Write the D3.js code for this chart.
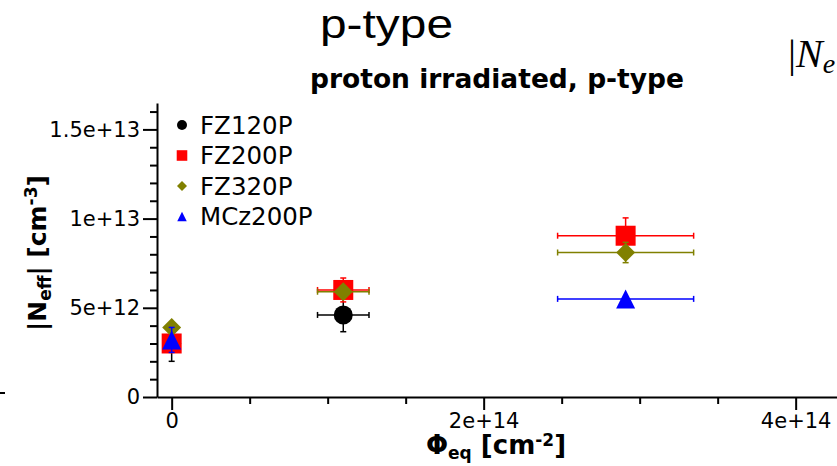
<!DOCTYPE html>
<html>
<head>
<meta charset="utf-8">
<script src="https://cdn.jsdelivr.net/npm/d3@7"></script>
<style>
  body { margin: 0; background: #fff; }
  #art { width: 837px; height: 466px; }
</style>
</head>
<body>
<div id="art"></div>
<script>
// fluence [cm^-2], |Neff| [cm^-3] and their errors
const seriesNames = ["FZ120P", "FZ200P", "FZ320P", "MCz200P"];

const fz120pFluence = [0, 1.1e14];
const fz120pNeff = [3.0e12, 4.6e12];
const fz120pFluenceErr = [0, 1.65e13];
const fz120pNeffErr = [1.0e12, 0.94e12];

const fz200pFluence = [0, 1.1e14, 2.91e14];
const fz200pNeff = [3.0e12, 6.0e12, 9.04e12];
const fz200pFluenceErr = [0, 1.65e13, 4.36e13];
const fz200pNeffErr = [0.4e12, 0.67e12, 1.0e12];

const fz320pFluence = [0, 1.1e14, 2.91e14];
const fz320pNeff = [3.9e12, 5.9e12, 8.1e12];
const fz320pFluenceErr = [0, 1.65e13, 4.36e13];
const fz320pNeffErr = [0.2e12, 0.3e12, 0.57e12];

const mcz200pFluence = [0, 2.91e14];
const mcz200pNeff = [3.2e12, 5.5e12];
const mcz200pFluenceErr = [0, 4.36e13];
const mcz200pNeffErr = [0.7e12, 0];

const xTickValues = [0, 2e14, 4e14];
const xTickLabels = ["0", "2e+14", "4e+14"];
const yTickValues = [0, 5e12, 1e13, 1.5e13];
const yTickLabels = ["0", "5e+12", "1e+13", "1.5e+13"];

config = {
  "settings": { "width": 837, "height": 466 },
  "style": {
    "colours": ["#000000", "#ff0000", "#808000", "#0000ff"],
    "shapes": ["circle", "square", "diamond", "triangle"],
    "font": "'DejaVu Sans', sans-serif"
  }
};

// triangle centred on the middle of its height, like the plotting program does
const triangle = {
  draw(context, size) {
    const h = Math.sqrt(size) / 2;
    context.moveTo(0, -h);
    context.lineTo(h, h);
    context.lineTo(-h, h);
    context.closePath();
  }
};

function symbolFor(shape, big) {
  if (shape === "circle") return d3.symbol().type(d3.symbolCircle).size(Math.PI * (big ? 9.5 : 5) ** 2)();
  if (shape === "square") return d3.symbol().type(d3.symbolSquare).size(big ? 400 : 112)();
  if (shape === "diamond") return d3.symbol().type(d3.symbolSquare).size(big ? 180 : 50)();
  return d3.symbol().type(triangle).size(big ? 361 : 90)();
}

function art() {
  const width = config.settings.width;
  const height = config.settings.height;
  const font = config.style.font;

  const svg = d3.select("#art").append("svg")
    .attr("width", width)
    .attr("height", height)
    .style("font-family", font);

  const x = d3.scaleLinear().domain([-0.094e14, 4.265e14]).range([157, 837]);
  const y = d3.scaleLinear().domain([0, 1.648e13]).range([397, 103]);

  // slide titles around the chart
  svg.append("text")
    .attr("x", 320).attr("y", 38)
    .attr("textLength", 133).attr("lengthAdjust", "spacingAndGlyphs")
    .style("font-family", "'Liberation Sans', Arial, sans-serif")
    .style("font-size", "40px")
    .text("p-type");

  const nTxt = svg.append("text")
    .attr("x", 788).attr("y", 67)
    .style("font-family", "'Liberation Serif', serif")
    .style("font-size", "40px");
  nTxt.append("tspan").text("|");
  nTxt.append("tspan").style("font-style", "italic").text("N");
  nTxt.append("tspan").style("font-style", "italic").style("font-size", "28px").attr("dy", 6).text("e");

  svg.append("line")
    .attr("x1", 0).attr("x2", 5).attr("y1", 393).attr("y2", 393)
    .attr("stroke", "#000").attr("stroke-width", 2);

  svg.append("text")
    .attr("x", 497).attr("y", 88)
    .attr("text-anchor", "middle")
    .style("font-weight", "bold")
    .style("font-size", "26.5px")
    .text("proton irradiated, p-type");

  // minor ticks
  const yMinor = d3.range(0, 1.65e13, 1e12).filter(v => !yTickValues.includes(v));
  svg.append("g")
    .attr("transform", `translate(157,0)`)
    .call(d3.axisLeft(y).tickValues(yMinor).tickSize(7).tickFormat("").tickSizeOuter(0))
    .call(g => g.select(".domain").remove())
    .call(g => g.selectAll("line").attr("stroke-width", 2));

  const xMinor = d3.range(0, 4.3e14, 5e13).filter(v => !xTickValues.some(t => Math.abs(t - v) < 1));
  svg.append("g")
    .attr("transform", `translate(0,397)`)
    .call(d3.axisBottom(x).tickValues(xMinor).tickSize(7).tickFormat("").tickSizeOuter(0))
    .call(g => g.select(".domain").remove())
    .call(g => g.selectAll("line").attr("stroke-width", 2));

  // major axes
  svg.append("g")
    .attr("transform", `translate(157,0)`)
    .call(d3.axisLeft(y).tickValues(yTickValues).tickSize(14).tickPadding(3).tickSizeOuter(0)
      .tickFormat((d, i) => yTickLabels[i]))
    .call(g => g.select(".domain").attr("stroke-width", 2))
    .call(g => g.selectAll("line").attr("stroke-width", 2))
    .call(g => g.selectAll("text").style("font-family", font).style("font-size", "21px").attr("fill", "#000"));

  svg.append("g")
    .attr("transform", `translate(0,397)`)
    .call(d3.axisBottom(x).tickValues(xTickValues).tickSize(13).tickPadding(3).tickSizeOuter(0)
      .tickFormat((d, i) => xTickLabels[i]))
    .call(g => g.select(".domain").attr("stroke-width", 2))
    .call(g => g.selectAll("line").attr("stroke-width", 2))
    .call(g => g.selectAll("text").style("font-family", font).style("font-size", "21px").attr("fill", "#000"));

  // axis titles
  const xLab = svg.append("text")
    .attr("x", 496).attr("y", 454)
    .attr("text-anchor", "middle")
    .style("font-weight", "bold")
    .style("font-size", "26px");
  xLab.append("tspan").text("\u03a6");
  xLab.append("tspan").style("font-size", "17px").attr("dy", 5).text("eq");
  xLab.append("tspan").attr("dy", -5).text(" [cm");
  xLab.append("tspan").style("font-size", "17px").attr("dy", -8).text("-2");
  xLab.append("tspan").attr("dy", 8).text("]");

  const yLab = svg.append("text")
    .attr("transform", "translate(46,253) rotate(-90)")
    .attr("text-anchor", "middle")
    .style("font-weight", "bold")
    .style("font-size", "25px");
  yLab.append("tspan").text("|N");
  yLab.append("tspan").style("font-size", "17px").attr("dy", 5).text("eff");
  yLab.append("tspan").attr("dy", -5).text("| [cm");
  yLab.append("tspan").style("font-size", "17px").attr("dy", -9).text("-3");
  yLab.append("tspan").attr("dy", 9).text("]");

  // data
  const seriesData = [
    [fz120pFluence, fz120pNeff, fz120pFluenceErr, fz120pNeffErr],
    [fz200pFluence, fz200pNeff, fz200pFluenceErr, fz200pNeffErr],
    [fz320pFluence, fz320pNeff, fz320pFluenceErr, fz320pNeffErr],
    [mcz200pFluence, mcz200pNeff, mcz200pFluenceErr, mcz200pNeffErr]
  ].map(([fx, fy, ex, ey], s) => fx.map((v, i) => ({ s, x: v, y: fy[i], ex: ex[i], ey: ey[i] })));

  const cap = 3;
  seriesData.forEach((pts, s) => {
    const col = config.style.colours[s];
    const g = svg.append("g").attr("stroke", col).attr("stroke-width", 1.5);
    pts.filter(d => d.ex > 0).forEach(d => {
      const cy = y(d.y), x0 = x(d.x - d.ex), x1 = x(d.x + d.ex);
      g.append("line").attr("x1", x0).attr("x2", x1).attr("y1", cy).attr("y2", cy);
      g.append("line").attr("x1", x0).attr("x2", x0).attr("y1", cy - cap).attr("y2", cy + cap);
      g.append("line").attr("x1", x1).attr("x2", x1).attr("y1", cy - cap).attr("y2", cy + cap);
    });
    pts.filter(d => d.ey > 0).forEach(d => {
      const cx = x(d.x), y0 = y(d.y - d.ey), y1 = y(d.y + d.ey);
      g.append("line").attr("x1", cx).attr("x2", cx).attr("y1", y0).attr("y2", y1);
      g.append("line").attr("x1", cx - cap).attr("x2", cx + cap).attr("y1", y0).attr("y2", y0);
      g.append("line").attr("x1", cx - cap).attr("x2", cx + cap).attr("y1", y1).attr("y2", y1);
    });
    const shape = config.style.shapes[s];
    svg.append("g").selectAll("path")
      .data(pts)
      .enter()
      .append("path")
      .attr("d", symbolFor(shape, true))
      .attr("transform", d => `translate(${x(d.x)},${y(d.y)})` + (shape === "diamond" ? " rotate(45)" : ""))
      .attr("fill", col);
  });

  // legend
  const legend = svg.append("g");
  seriesNames.forEach((name, i) => {
    const ly = 125 + i * 30.5;
    const shape = config.style.shapes[i];
    legend.append("path")
      .attr("d", symbolFor(shape, false))
      .attr("transform", `translate(182,${ly})` + (shape === "diamond" ? " rotate(45)" : ""))
      .attr("fill", config.style.colours[i]);
    legend.append("text")
      .attr("x", 200).attr("y", ly)
      .attr("dy", "0.36em")
      .style("font-size", "24.5px")
      .text(name);
  });
}

window.onload = function () {
  art();
};
</script>
</body>
</html>
